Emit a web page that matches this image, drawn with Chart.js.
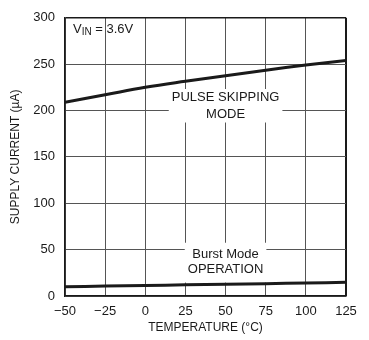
<!DOCTYPE html>
<html>
<head>
<meta charset="utf-8">
<script src="https://cdn.jsdelivr.net/npm/chart.js@4/dist/chart.umd.min.js"></script>
<style>
  html, body { margin: 0; padding: 0; background: #fff; }
  #wrap { width: 369px; height: 340px; }
</style>
</head>
<body>
<div id="wrap"><canvas id="c"></canvas></div>
<script>
const temperatures = [-50, -25, 0, 25, 50, 75, 100, 125];
const pulseSkipping = [209, 217, 225, 231.5, 237.5, 243.5, 249, 254];
const burstMode = [10, 10.7, 11.3, 12, 12.6, 13.3, 14, 14.8];
const xTicks = [-50, -25, 0, 25, 50, 75, 100, 125];
const yTicks = [0, 50, 100, 150, 200, 250, 300];

const FONT = "'Liberation Sans Narrow', 'Arial Narrow', 'Liberation Sans', sans-serif";
const INK = "#1a1a1a";

// text notes, white box behind them goes under the curves
const notes = {
  id: "notes",
  beforeDatasetsDraw(chart) {
    const ctx = chart.ctx;
    const x = chart.scales.x, y = chart.scales.y;
    ctx.save();
    ctx.font = "13px " + FONT;
    ctx.textAlign = "center";
    ctx.textBaseline = "middle";

    function block(lines, cx, cy1, cy2, padX, padTop, padBot) {
      const px = x.getPixelForValue(cx);
      const p1 = y.getPixelForValue(cy1);
      const p2 = y.getPixelForValue(cy2);
      const w = Math.max(...lines.map(t => ctx.measureText(t).width));
      ctx.fillStyle = "#fff";
      ctx.fillRect(px - w / 2 - padX, p1 - padTop, w + padX * 2, p2 - p1 + padTop + padBot);
      ctx.fillStyle = INK;
      ctx.fillText(lines[0], px, p1);
      ctx.fillText(lines[1], px, p2);
    }
    block(["PULSE SKIPPING", "MODE"], 50, 214.6, 195.7, 3, 8, 8);
    block(["Burst Mode", "OPERATION"], 50, 44.5, 28.5, 3, 12, 13);

    // V_IN = 3.6V
    const vx = x.getPixelForValue(-45);
    const vy = y.getPixelForValue(287.5);
    ctx.textAlign = "left";
    ctx.fillText("V", vx, vy);
    let cx = vx + ctx.measureText("V").width;
    ctx.font = "10px " + FONT;
    ctx.fillText("IN", cx, vy + 3);
    cx += ctx.measureText("IN").width;
    ctx.font = "13px " + FONT;
    ctx.fillText(" = 3.6V", cx, vy);
    ctx.restore();
  }
};

function edgeColor(ctx, last) {
  return ctx.tick && ctx.tick.value === last ? INK : "#555";
}

new Chart(document.getElementById("c"), {
  type: "line",
  data: {
    datasets: [
      {
        label: "Pulse Skipping Mode",
        data: temperatures.map((t, i) => ({ x: t, y: pulseSkipping[i] })),
        borderColor: INK,
        borderWidth: 3,
        pointRadius: 0,
        tension: 0.4,
      },
      {
        label: "Burst Mode Operation",
        data: temperatures.map((t, i) => ({ x: t, y: burstMode[i] })),
        borderColor: INK,
        borderWidth: 3,
        pointRadius: 0,
        tension: 0.4,
      },
    ],
  },
  options: {
    responsive: true,
    maintainAspectRatio: false,
    animation: false,
    layout: { padding: { top: 15, right: 23, left: 0, bottom: 0 } },
    plugins: {
      legend: { display: false },
      tooltip: { enabled: false },
    },
    scales: {
      x: {
        type: "linear",
        min: -50,
        max: 125,
        afterBuildTicks(s) { s.ticks = xTicks.map(v => ({ value: v })); },
        afterFit(s) { s.height = 44; },
        grid: {
          color: c => edgeColor(c, 125),
          lineWidth: c => (c.tick && c.tick.value === 125 ? 2 : 1),
          drawTicks: false,
        },
        border: { color: INK, width: 1.5 },
        ticks: {
          color: INK,
          font: { family: FONT, size: 13 },
          padding: 8,
          maxRotation: 0,
          callback: v => String(v).replace("-", "\u2212"),
        },
        title: {
          display: true,
          text: "TEMPERATURE (\u00B0C)",
          color: INK,
          font: { family: FONT, size: 12 },
          padding: { top: 0, bottom: 5 },
        },
      },
      y: {
        min: 0,
        max: 300,
        afterBuildTicks(s) { s.ticks = yTicks.map(v => ({ value: v })); },
        afterFit(s) { s.width = 65; },
        grid: {
          color: c => edgeColor(c, 300),
          lineWidth: c => (c.tick && c.tick.value === 300 ? 1.5 : 1),
          drawTicks: false,
        },
        border: { color: INK, width: 1.5 },
        ticks: {
          color: INK,
          font: { family: FONT, size: 13 },
          padding: 10,
        },
        title: {
          display: true,
          text: "SUPPLY CURRENT (\u00B5A)",
          color: INK,
          font: { family: FONT, size: 12 },
          padding: { top: 8, bottom: 0 },
        },
      },
    },
  },
  plugins: [notes],
});
</script>
</body>
</html>
